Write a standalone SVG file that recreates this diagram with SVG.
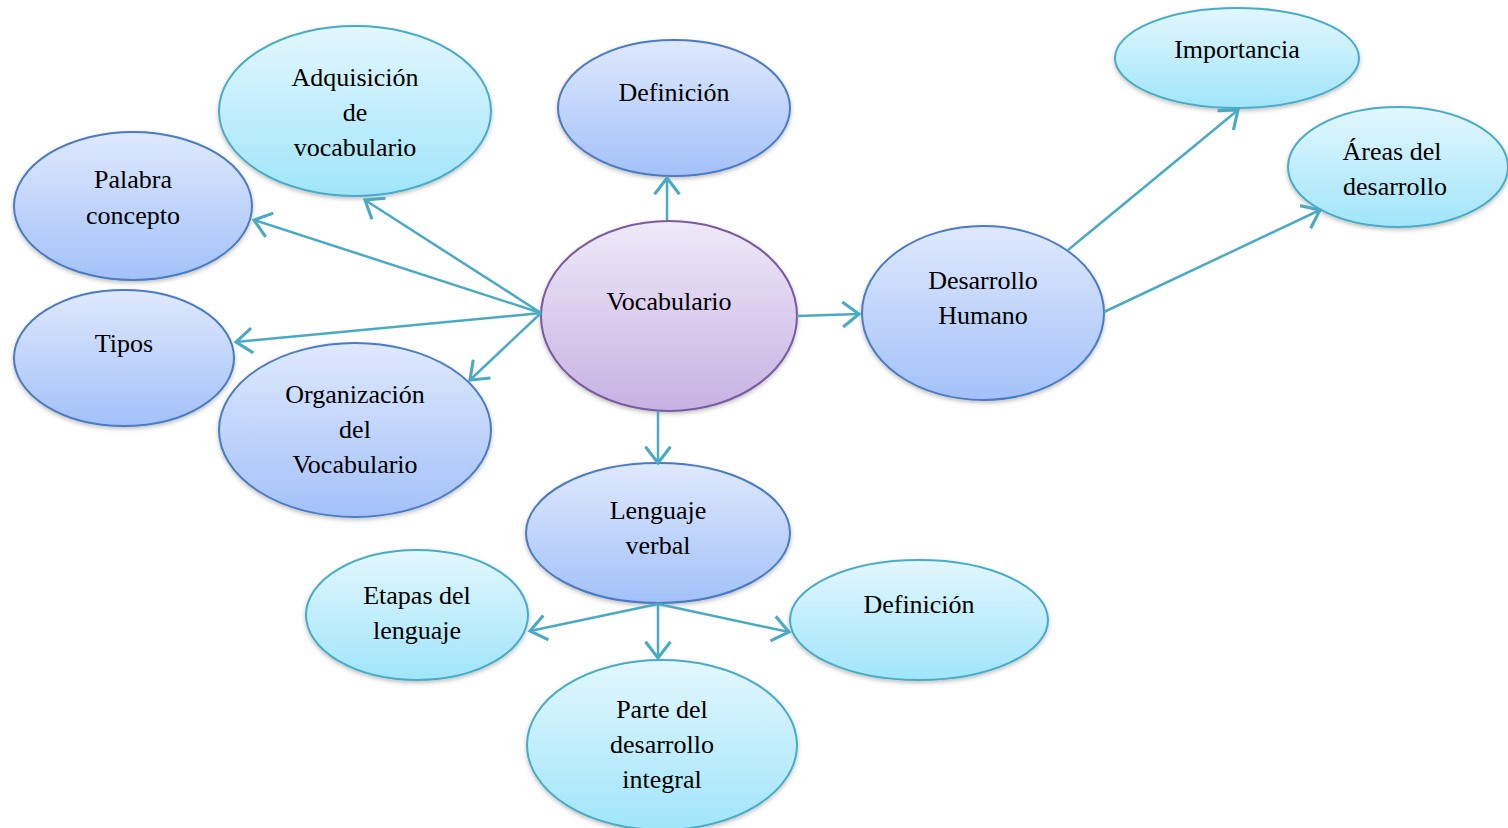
<svg xmlns="http://www.w3.org/2000/svg" width="1508" height="828" viewBox="0 0 1508 828">
<defs>
<linearGradient id="gBlue" x1="0" y1="0" x2="0" y2="1"><stop offset="0" stop-color="#dfe9fd"/><stop offset="1" stop-color="#a3c1f9"/></linearGradient>
<linearGradient id="gCyan" x1="0" y1="0" x2="0" y2="1"><stop offset="0" stop-color="#e3f7fe"/><stop offset="1" stop-color="#a0e5fa"/></linearGradient>
<linearGradient id="gPurple" x1="0" y1="0" x2="0" y2="1"><stop offset="0" stop-color="#efe9f8"/><stop offset="1" stop-color="#c6b2e3"/></linearGradient>
<filter id="sh" x="-10%" y="-10%" width="120%" height="125%"><feDropShadow dx="0" dy="2" stdDeviation="2" flood-color="#000" flood-opacity="0.25"/></filter>
<marker id="arr" markerUnits="userSpaceOnUse" markerWidth="30" markerHeight="30" viewBox="-16 -12 20 24" refX="0" refY="0" orient="auto">
<path d="M-13,-10 L0,0 L-13,10" fill="none" stroke="#4aaac4" stroke-width="2.5"/>
</marker>
<style>
.blue{fill:url(#gBlue);stroke:#4a7bc2;stroke-width:2;filter:url(#sh)}
.cyan{fill:url(#gCyan);stroke:#4aacc6;stroke-width:2;filter:url(#sh)}
.purple{fill:url(#gPurple);stroke:#7a5aa0;stroke-width:2;filter:url(#sh)}
text{font-family:"Liberation Serif","Times New Roman",serif;font-size:26px;fill:#000;text-anchor:middle}
.con line{stroke:#4aaac4;stroke-width:2.5;marker-end:url(#arr)}
</style>
</defs>
<rect width="1508" height="828" fill="#fff"/>
<g id="n-definicion-top"><ellipse class="blue" cx="674" cy="108" rx="116" ry="68"/><text x="674" y="101">Definición</text></g>
<g id="n-adquisicion"><ellipse class="cyan" cx="355" cy="111" rx="136" ry="85"/><text x="355" y="86">Adquisición</text><text x="355" y="121">de</text><text x="355" y="156">vocabulario</text></g>
<g id="n-palabra"><ellipse class="blue" cx="133" cy="206" rx="119" ry="74"/><text x="133" y="188">Palabra</text><text x="133" y="224">concepto</text></g>
<g id="n-tipos"><ellipse class="blue" cx="124" cy="358" rx="110" ry="68"/><text x="124" y="352">Tipos</text></g>
<g id="n-organizacion"><ellipse class="blue" cx="355" cy="430" rx="136" ry="87"/><text x="355" y="403">Organización</text><text x="355" y="438">del</text><text x="355" y="473">Vocabulario</text></g>
<g id="n-vocabulario"><ellipse class="purple" cx="669" cy="316" rx="128" ry="95"/><text x="669" y="310">Vocabulario</text></g>
<g id="n-desarrollo"><ellipse class="blue" cx="983" cy="313" rx="121" ry="87"/><text x="983" y="289">Desarrollo</text><text x="983" y="324">Humano</text></g>
<g id="n-importancia"><ellipse class="cyan" cx="1237" cy="58" rx="122" ry="50"/><text x="1237" y="58">Importancia</text></g>
<g id="n-areas"><ellipse class="cyan" cx="1398" cy="167" rx="110" ry="60"/><text x="1392" y="160">Áreas del</text><text x="1395" y="195">desarrollo</text></g>
<g id="n-lenguaje"><ellipse class="blue" cx="658" cy="533" rx="132" ry="70"/><text x="658" y="519">Lenguaje</text><text x="658" y="554">verbal</text></g>
<g id="n-etapas"><ellipse class="cyan" cx="417" cy="615" rx="111" ry="65"/><text x="417" y="604">Etapas del</text><text x="417" y="639">lenguaje</text></g>
<g id="n-definicion-bottom"><ellipse class="cyan" cx="919" cy="620" rx="129" ry="60"/><text x="919" y="613">Definición</text></g>
<g id="n-parte"><ellipse class="cyan" cx="662" cy="745" rx="135" ry="85"/><text x="662" y="718">Parte del</text><text x="662" y="753">desarrollo</text><text x="662" y="788">integral</text></g>
<g id="connectors" class="con">
<line x1="667" y1="220" x2="667" y2="178"/>
<line x1="541" y1="313" x2="365" y2="200"/>
<line x1="541" y1="313" x2="254" y2="220"/>
<line x1="541" y1="313" x2="236" y2="342"/>
<line x1="541" y1="313" x2="470" y2="380"/>
<line x1="797" y1="316" x2="859" y2="314"/>
<line x1="658" y1="411" x2="658" y2="463"/>
<line x1="1068" y1="250" x2="1238" y2="110"/>
<line x1="1104" y1="312" x2="1320" y2="210"/>
<line x1="658" y1="604" x2="530" y2="631"/>
<line x1="658" y1="604" x2="789" y2="632"/>
<line x1="658" y1="604" x2="658" y2="658"/>
</g>
</svg>
